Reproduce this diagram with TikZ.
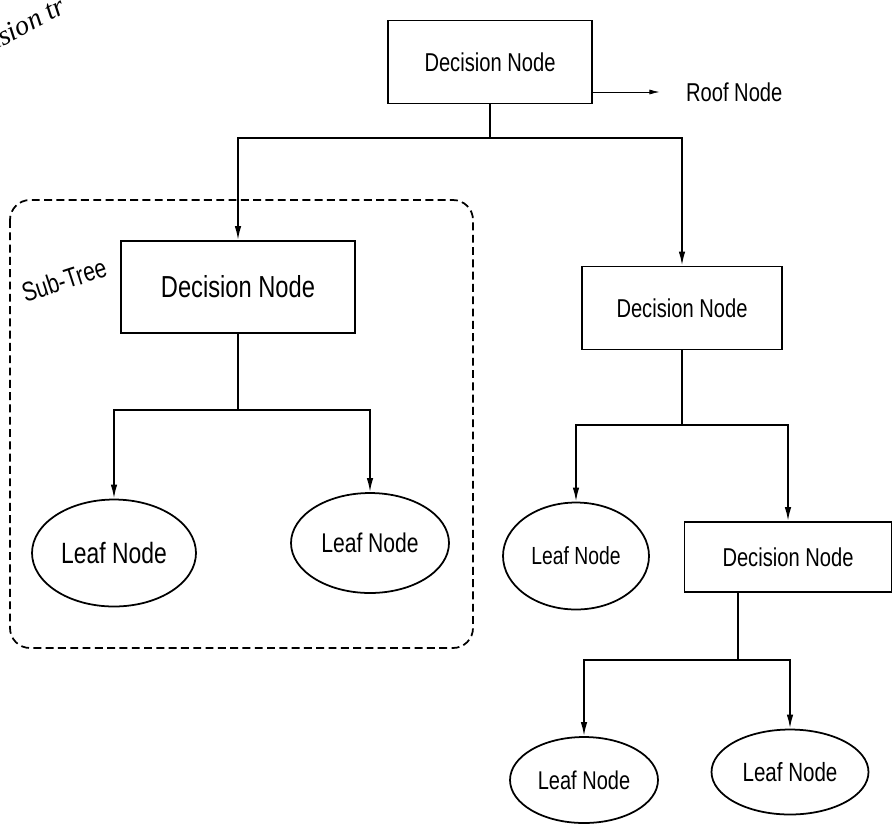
\documentclass[tikz,border=0pt]{standalone}
\usepackage{fontspec}
\setmainfont[FakeStretch=0.78]{Liberation Sans}
\newfontfamily\capfont{Liberation Serif}
\usetikzlibrary{arrows.meta, positioning, shapes.geometric}

\begin{document}
\begin{tikzpicture}[x=0.02cm, y=-0.02cm, >={Latex[length=2.8mm, width=1.3mm]}]
    \tikzstyle{decbox}=[draw, rectangle, line width=1pt, inner sep=0pt, font=\fontsize{14.7}{16}\selectfont]
    \tikzstyle{leafnode}=[draw, ellipse, line width=1pt, inner sep=0pt, font=\fontsize{15.4}{17}\selectfont]
    \tikzstyle{link}=[line width=1pt, ->]

    \useasboundingbox (0,0) rectangle (892,833);
    \clip (0,0) rectangle (892,833);

    % caption fragment, cut by the page edge
    \node[rotate=28, anchor=base west, inner sep=0pt, font=\capfont\itshape\fontsize{16}{18}\selectfont] (caption) at (-4,50) {ision tr};

    % root
    \node[decbox, minimum width=4.08cm, minimum height=1.66cm] (root) at (490,62) {Decision Node};
    \node[anchor=west, inner sep=1pt, font=\fontsize{14.7}{16}\selectfont] (roof) at (684,92) {Roof Node};
    \draw[->, thin, >={Latex[length=2mm, width=1mm]}, shorten >=14pt] (root.east |- roof.west) -- (roof.west);

    % sub-tree
    \node[decbox, minimum width=4.68cm, minimum height=1.84cm, font=\fontsize{17.3}{19}\selectfont] (sub) at (238,287) {Decision Node};
    \node[leafnode, minimum width=3.28cm, minimum height=2.14cm, font=\fontsize{16.7}{18}\selectfont] (leaf1) at (114,553) {Leaf Node};
    \node[leafnode, minimum width=3.16cm, minimum height=2.0cm] (leaf2) at (370,543) {Leaf Node};
    \node[rotate=18, inner sep=0pt, font=\fontsize{15.4}{17}\selectfont] (sublabel) at (64,280) {Sub-Tree};
    \draw[dashed, line width=1pt, dash pattern=on 4.5pt off 2.5pt, rounded corners=4mm] (10,200) rectangle (473,648);

    % right branch
    \node[decbox, minimum width=4cm, minimum height=1.66cm] (dec2) at (682,308) {Decision Node};
    \node[leafnode, minimum width=2.92cm, minimum height=2.14cm, font=\fontsize{14.1}{16}\selectfont] (leaf3) at (576,556) {Leaf Node};
    \node[decbox, minimum width=4.14cm, minimum height=1.4cm] (dec3) at (788,557) {Decision Node};
    \node[leafnode, minimum width=2.96cm, minimum height=1.72cm, font=\fontsize{14.6}{16}\selectfont] (leaf4) at (584,780) {Leaf Node};
    \node[leafnode, minimum width=3.14cm, minimum height=1.7cm, font=\fontsize{15}{17}\selectfont] (leaf5) at (790,772) {Leaf Node};

    % connectors
    \coordinate (j1) at (490,138);
    \coordinate (j2) at (238,410);
    \coordinate (j3) at (682,425);
    \coordinate (j4) at (738,660);

    \draw[line width=1pt] (root.south) -- (j1);
    \draw[link] (j1) -| (sub.north);
    \draw[link] (j1) -| (dec2.north);

    \draw[line width=1pt] (sub.south) -- (j2);
    \draw[link] (j2) -| (leaf1.north);
    \draw[link] (j2) -| (leaf2.north);

    \draw[line width=1pt] (dec2.south) -- (j3);
    \draw[link] (j3) -| (leaf3.north);
    \draw[link] (j3) -| (dec3.north);

    \draw[line width=1pt] ([xshift=-1cm]dec3.south) -- (j4);
    \draw[link] (j4) -| (leaf4.north);
    \draw[link] (j4) -| (leaf5.north);
\end{tikzpicture}
\end{document}
